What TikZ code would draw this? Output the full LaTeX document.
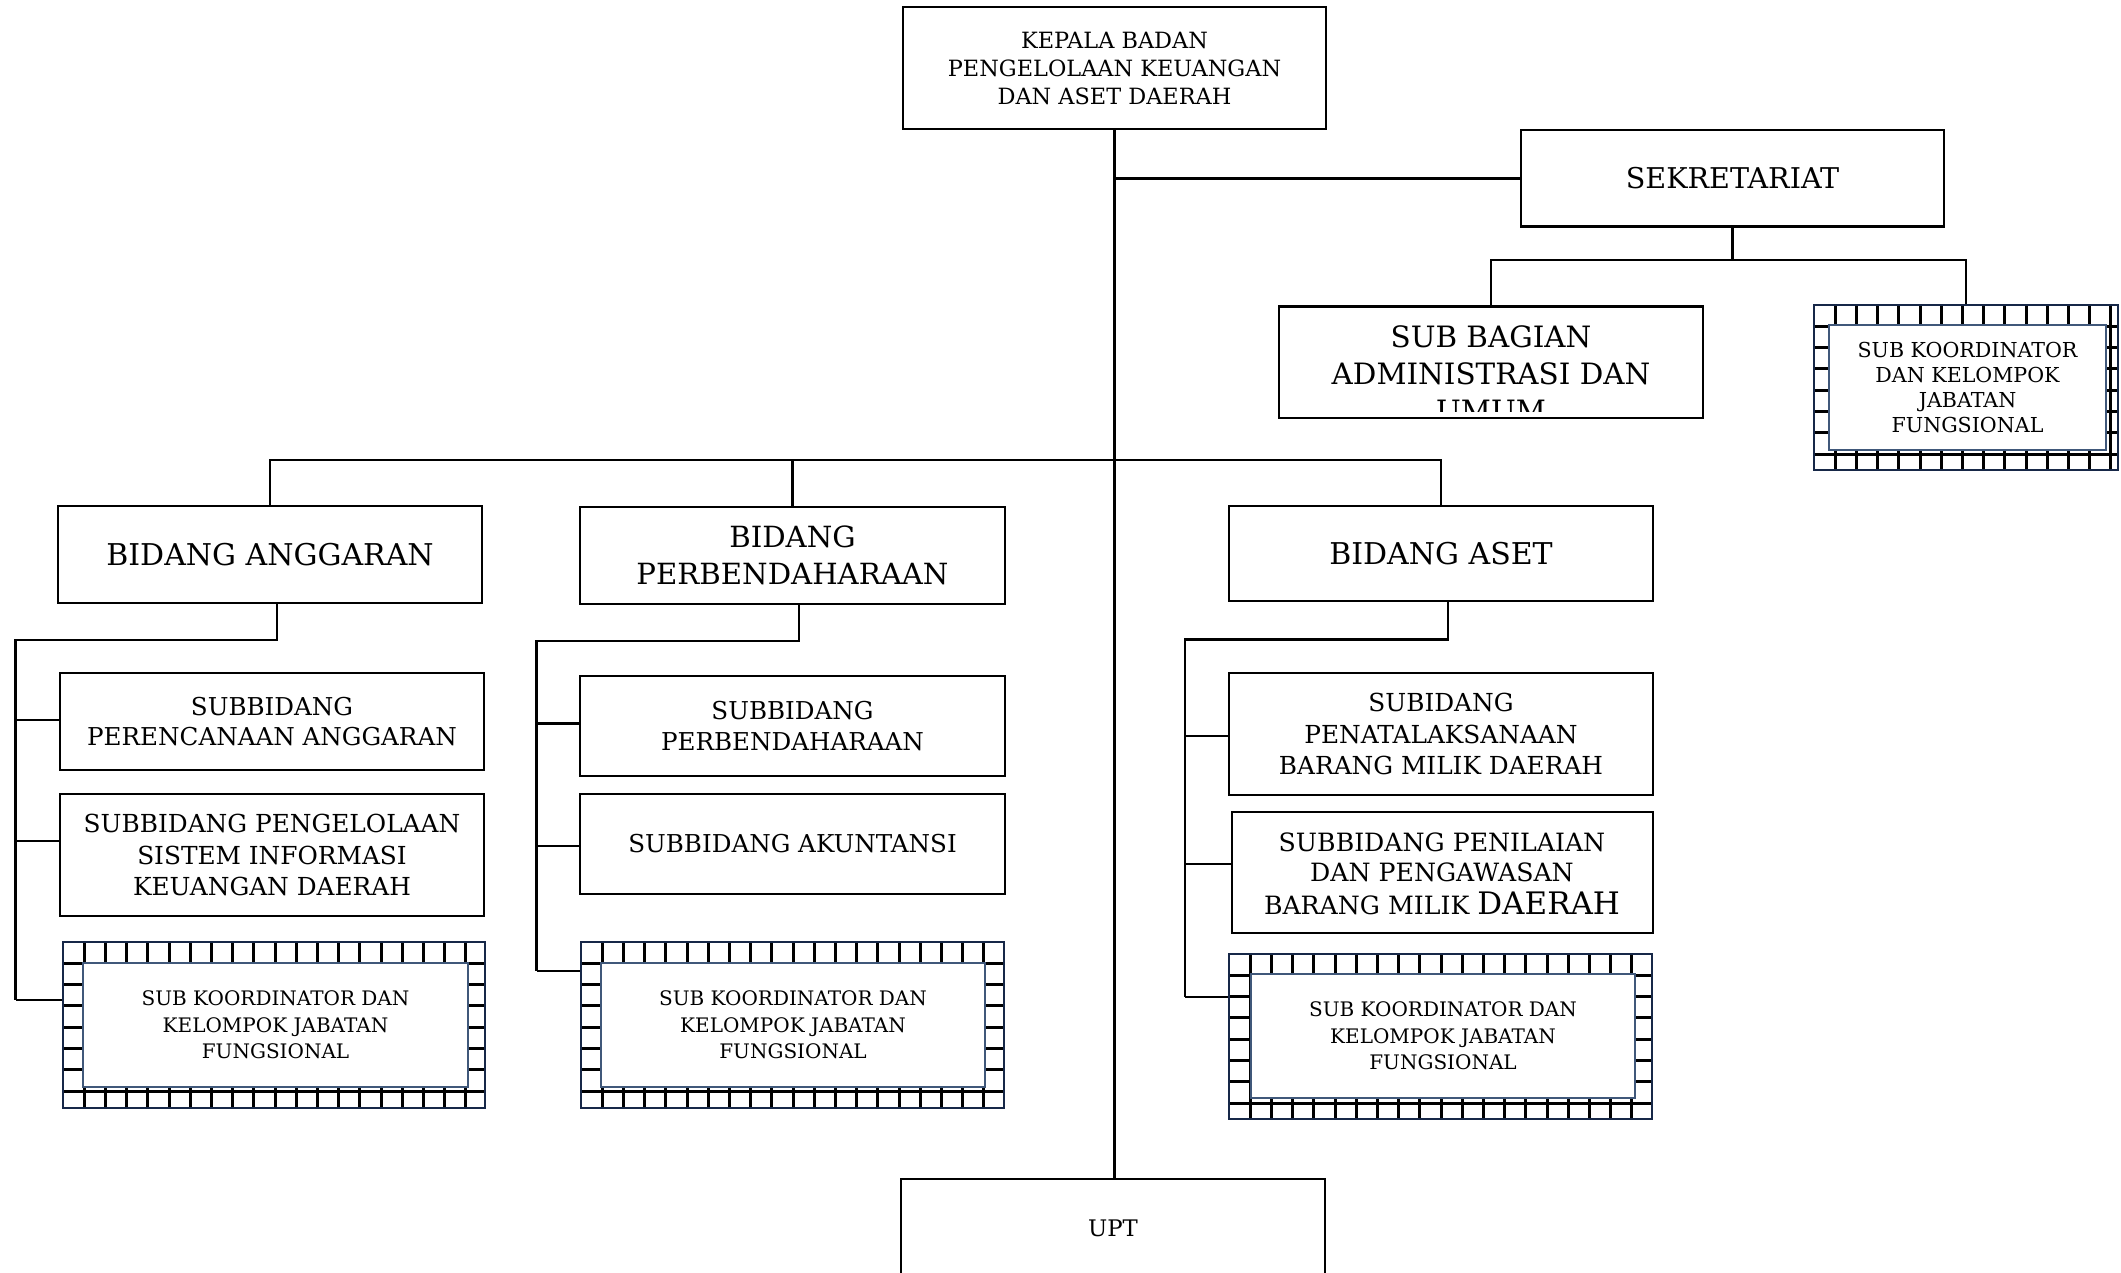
\documentclass[tikz,border=0pt]{standalone}
\usepackage{fontspec}
\setmainfont{DejaVu Serif}
\definecolor{navyout}{RGB}{23,40,72}
\definecolor{navyin}{RGB}{64,88,122}
\tikzset{
  kbox/.style={draw=black, line width=1.3pt, fill=white, inner sep=0pt, align=center},
  conn/.style={draw=black, line width=1.2pt},
  hout/.style={draw=navyout, line width=1.2pt, fill=white, inner sep=0pt},
  hin/.style={draw=navyin, line width=1pt, fill=white, inner sep=0pt, align=center, font=\fontsize{10}{13.3}\selectfont},
  gridline/.style={draw=black, line width=1.5pt},
  ftop/.style={font=\fontsize{11.2}{14}\selectfont},
  fbig/.style={font=\fontsize{14.6}{18.3}\selectfont},
  fsub/.style={font=\fontsize{12.3}{15.3}\selectfont},
}
\newcommand\orgbox[7]{\node[#6, minimum width={(#4-#2)*0.5pt}, minimum height={(#5-#3)*0.5pt}] (#1) at ({(#2+#4)/2},{(#3+#5)/2}) {#7};}
\newcommand\hgrid[4]{%
  \pgfmathtruncatemacro\hgnx{(#3-#1)/21.2 - 0.3}%
  \pgfmathtruncatemacro\hgny{(#4-#2)/21.3 - 0.3}%
  \foreach \k in {1,...,\hgnx} {\draw[gridline] ({#1+\k*21.2},#2) -- ({#1+\k*21.2},#4);}%
  \foreach \k in {1,...,\hgny} {\draw[gridline] (#1,{#2+\k*21.3}) -- (#3,{#2+\k*21.3});}%
  \draw[navyout, line width=1.2pt] (#1,#2) rectangle (#3,#4);%
}
\begin{document}
\begin{tikzpicture}[x=0.5pt,y=-0.5pt]
\useasboundingbox (0,0) rectangle (2121,1273);
\clip (0,0) rectangle (2121,1273);

% top
\orgbox{kep}{903}{7}{1326}{129}{kbox,ftop}{KEPALA BADAN\\PENGELOLAAN KEUANGAN\\DAN ASET DAERAH}
\orgbox{sek}{1521}{130}{1944}{226.7}{kbox,font=\fontsize{14.3}{17}\selectfont}{SEKRETARIAT}
\orgbox{sb}{1279}{306.7}{1703}{418}{kbox}{}
\begin{scope}
\clip (1282,309) rectangle (1700,411);
\node[font=\fontsize{14.7}{18.5}\selectfont, align=center, inner sep=0pt] (sbt) at (1491,374) {SUB BAGIAN\\ADMINISTRASI DAN\\UMUM};
\end{scope}
\orgbox{h0}{1814}{305}{2118}{470}{hout}{}
\hgrid{1814}{305}{2118}{470}
\orgbox{h0i}{1829}{325}{2106}{450}{hin,font=\fontsize{10.3}{12.5}\selectfont}{SUB KOORDINATOR\\DAN KELOMPOK\\JABATAN\\FUNGSIONAL}

% bidang
\orgbox{ba}{58}{506}{482}{603}{kbox,font=\fontsize{15}{18}\selectfont}{BIDANG ANGGARAN}
\orgbox{bp}{580}{507}{1005}{604}{kbox,fbig}{BIDANG\\PERBENDAHARAAN}
\orgbox{bs}{1229}{506}{1653}{601}{kbox,font=\fontsize{15}{18}\selectfont}{BIDANG ASET}

% anggaran column
\orgbox{s1}{60}{673}{484}{770}{kbox,fsub}{SUBBIDANG\\PERENCANAAN ANGGARAN}
\orgbox{s2}{60}{794}{484}{916}{kbox,font=\fontsize{12.4}{15.6}\selectfont}{SUBBIDANG PENGELOLAAN\\SISTEM INFORMASI\\KEUANGAN DAERAH}
\orgbox{ha}{63}{942}{485}{1108}{hout}{}
\hgrid{63}{942}{485}{1108}
\orgbox{hai}{83}{963}{468}{1087}{hin}{SUB KOORDINATOR DAN\\KELOMPOK JABATAN\\FUNGSIONAL}

% perbendaharaan column
\orgbox{p1}{580}{676}{1005}{776}{kbox,fsub}{SUBBIDANG\\PERBENDAHARAAN}
\orgbox{p2}{580}{794}{1005}{894}{kbox,fsub}{SUBBIDANG AKUNTANSI}
\orgbox{hp}{581}{942}{1004}{1108}{hout}{}
\hgrid{581}{942}{1004}{1108}
\orgbox{hpi}{601}{963}{985}{1087}{hin}{SUB KOORDINATOR DAN\\KELOMPOK JABATAN\\FUNGSIONAL}

% aset column
\orgbox{t1}{1229}{673}{1653}{795}{kbox,font=\fontsize{12.4}{15.6}\selectfont}{SUBIDANG\\PENATALAKSANAAN\\BARANG MILIK DAERAH}
\orgbox{t2}{1232}{812}{1653}{933}{kbox}{}
\node[align=center, inner sep=0pt, font=\fontsize{12.6}{14.6}\selectfont] (t2t) at (1442,874) {SUBBIDANG PENILAIAN\\DAN PENGAWASAN\\[2pt]BARANG MILIK {\fontsize{15.5}{14.6}\selectfont DAERAH}};
\orgbox{ht}{1229}{954}{1652}{1119}{hout}{}
\hgrid{1229}{954}{1652}{1119}
\orgbox{hti}{1251}{974}{1635}{1098}{hin}{SUB KOORDINATOR DAN\\KELOMPOK JABATAN\\FUNGSIONAL}

% UPT
\orgbox{upt}{901}{1179}{1325}{1277}{kbox,font=\fontsize{11.4}{14}\selectfont}{UPT}

% connectors: main spine
\draw[conn] (kep.south) -- (kep.south |- upt.north);
\draw[conn] (kep.south |- sek.west) -- (sek.west);
\coordinate (sekj) at (1730,260);
\draw[conn] (sek.south) -- (sek.south |- sekj);
\draw[conn] (sb.north) -- (sb.north |- sekj) -- (h0.north |- sekj) -- (h0.north);
\coordinate (bus) at (0,460);
\draw[conn] (ba.north) -- (ba.north |- bus) -- (bs.north |- bus) -- (bs.north);
\draw[conn] (bp.north) -- (bp.north |- bus);

% anggaran tree
\coordinate (sa0) at (15.6,640);
\coordinate (sa1) at (15.6,720);
\coordinate (sa2) at (15.6,841);
\coordinate (sa3) at (15.6,1000);
\draw[conn] ([xshift=3.5pt]ba.south) |- (sa0) -- (sa3);
\draw[conn] (sa1) -- (sa1 -| s1.west);
\draw[conn] (sa2) -- (sa2 -| s2.west);
\draw[conn] (sa3) -- (sa3 -| ha.west);

% perbendaharaan tree
\coordinate (pa0) at (536.5,641);
\coordinate (pa1) at (536.5,723.5);
\coordinate (pa2) at (536.5,846);
\coordinate (pa3) at (536.5,971);
\draw[conn] ([xshift=3.2pt]bp.south) |- (pa0) -- (pa3);
\draw[conn] (pa1) -- (pa1 -| p1.west);
\draw[conn] (pa2) -- (pa2 -| p2.west);
\draw[conn] (pa3) -- (pa3 -| hp.west);

% aset tree
\coordinate (ta0) at (1185,639.5);
\coordinate (ta1) at (1185,736);
\coordinate (ta2) at (1185,864);
\coordinate (ta3) at (1185,997);
\draw[conn] ([xshift=3.5pt]bs.south) |- (ta0) -- (ta3);
\draw[conn] (ta1) -- (ta1 -| t1.west);
\draw[conn] (ta2) -- (ta2 -| t2.west);
\draw[conn] (ta3) -- (ta3 -| ht.west);
\end{tikzpicture}
\end{document}
